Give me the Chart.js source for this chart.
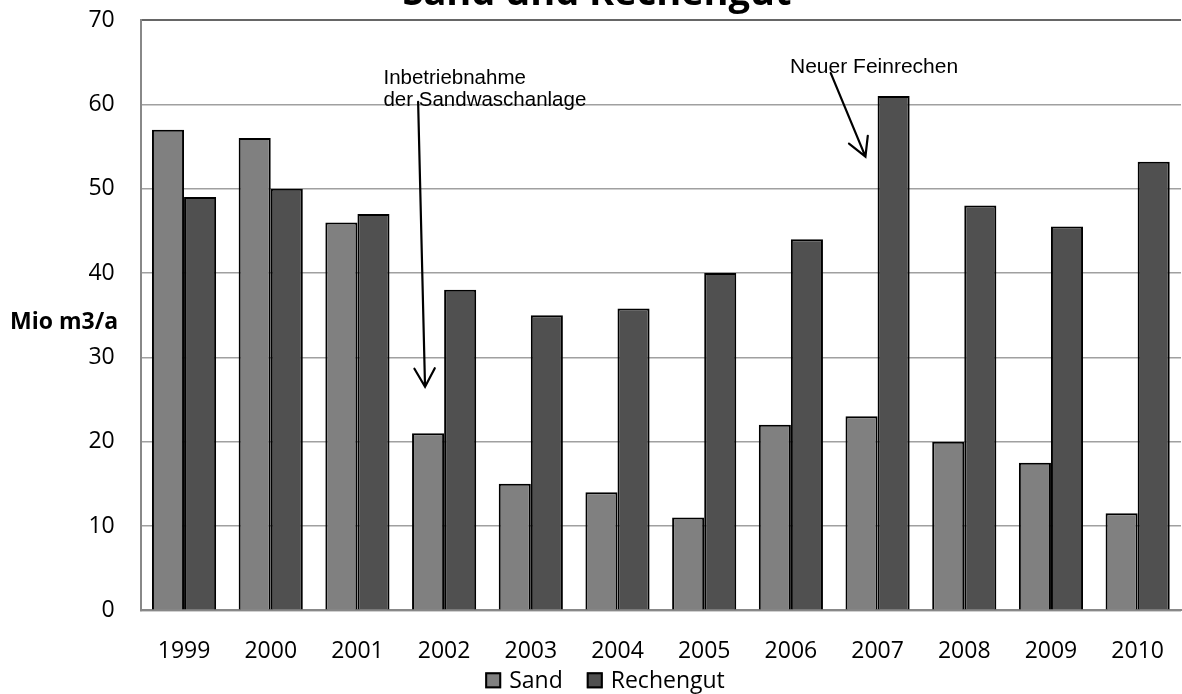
<!DOCTYPE html>
<html>
<head>
<meta charset="utf-8">
<script src="https://cdn.jsdelivr.net/npm/chart.js@4/dist/chart.umd.min.js"></script>
<style>
  html, body { margin: 0; padding: 0; background: #ffffff; }
  #wrap { width: 1182px; height: 694px; }
</style>
</head>
<body>
<div id="wrap"><canvas id="chart" width="1182" height="694"></canvas></div>
<script>
// Jahreswerte Sand und Rechengut (Mio m3/a)
const years = ['1999', '2000', '2001', '2002', '2003', '2004', '2005', '2006', '2007', '2008', '2009', '2010'];
const sand = [57, 56, 46, 21, 15, 14, 11, 22, 23, 20, 17.5, 11.5];
const rechengut = [49, 50, 47, 38, 35, 35.8, 40, 44, 61, 48, 45.5, 53.2];
const yTicks = [0, 10, 20, 30, 40, 50, 60, 70];

const chartTitle = 'Sand und Rechengut';
const yTitle = 'Mio m3/a';

// Hinweise mit Pfeil, Lage in Achsenwerten (Kategorie-Index, Wert)
const notes = [
  { lines: ['Inbetriebnahme', 'der Sandwaschanlage'], at: [2.30, 62.4], size: 20.5, lead: 21.5,
    from: [2.70, 60.3], to: [2.78, 26.5] },
  { lines: ['Neuer Feinrechen'], at: [6.99, 63.7], size: 21, lead: 22,
    from: [7.46, 63.7], to: [7.86, 53.8] }
];

const textPlugin = {
  id: 'texts',
  afterDraw(chart) {
    const { ctx, chartArea, scales } = chart;
    const x = scales.x, y = scales.y;
    ctx.save();
    // Titel (oben angeschnitten)
    ctx.fillStyle = '#000';
    ctx.font = 'bold 38px "Open Sans"';
    ctx.textAlign = 'center';
    ctx.textBaseline = 'alphabetic';
    ctx.fillText(chartTitle, 597, 5);
    // Achsentitel, waagrecht
    ctx.font = 'bold 23px "Open Sans"';
    ctx.textAlign = 'left';
    ctx.fillText(yTitle, 10, (chartArea.top + chartArea.bottom) / 2 + 14);

    // Legende unter den Jahreszahlen
    ctx.font = '23px "Open Sans"';
    ctx.textBaseline = 'middle';
    const items = chart.data.datasets.map(d => ({
      text: d.label, fill: d.backgroundColor, w: 16 + 8 + ctx.measureText(d.label).width
    }));
    const gap = 24;
    const total = items.reduce((s, it) => s + it.w, 0) + gap * (items.length - 1);
    let lx = 605 - total / 2;
    const ly = chartArea.bottom + 70;
    items.forEach(it => {
      ctx.fillStyle = it.fill;
      ctx.fillRect(lx, ly - 8, 16, 16);
      ctx.strokeStyle = '#000';
      ctx.lineWidth = 2;
      ctx.strokeRect(lx + 1, ly - 7, 14, 14);
      ctx.fillStyle = '#000';
      ctx.fillText(it.text, lx + 24, ly + 1);
      lx += it.w + gap;
    });

    // Hinweise
    ctx.textBaseline = 'alphabetic';
    ctx.strokeStyle = '#000';
    ctx.lineWidth = 2.2;
    ctx.lineCap = 'round';
    notes.forEach(n => {
      ctx.font = n.size + 'px "Liberation Sans", Arial, sans-serif';
      ctx.textAlign = 'left';
      const tx = x.getPixelForValue(n.at[0]);
      const ty = y.getPixelForValue(n.at[1]);
      n.lines.forEach((l, i) => ctx.fillText(l, tx, ty + i * n.lead));
      const x0 = x.getPixelForValue(n.from[0]), y0 = y.getPixelForValue(n.from[1]);
      const x1 = x.getPixelForValue(n.to[0]), y1 = y.getPixelForValue(n.to[1]);
      ctx.beginPath();
      ctx.moveTo(x0, y0);
      ctx.lineTo(x1, y1);
      const ang = Math.atan2(y0 - y1, x0 - x1);
      const len = 21, spread = 29 * Math.PI / 180;
      ctx.moveTo(x1 + len * Math.cos(ang - spread), y1 + len * Math.sin(ang - spread));
      ctx.lineTo(x1, y1);
      ctx.lineTo(x1 + len * Math.cos(ang + spread), y1 + len * Math.sin(ang + spread));
      ctx.stroke();
    });
    ctx.restore();
  }
};

function noPadding(scale) {
  scale.paddingTop = 0; scale.paddingBottom = 0;
  scale.paddingLeft = 0; scale.paddingRight = 0;
}

new Chart(document.getElementById('chart'), {
  type: 'bar',
  data: {
    labels: years,
    datasets: [
      { label: 'Sand', data: sand, backgroundColor: '#808080', borderColor: '#000', borderWidth: 2 },
      { label: 'Rechengut', data: rechengut, backgroundColor: '#505050', borderColor: '#000', borderWidth: 2 }
    ]
  },
  options: {
    responsive: false,
    animation: false,
    events: [],
    layout: { padding: { left: 0, right: 1, top: 20, bottom: 0 } },
    datasets: { bar: { categoryPercentage: 0.74, barPercentage: 1 } },
    plugins: {
      title: { display: false },
      tooltip: { enabled: false },
      legend: { display: false }
    },
    scales: {
      x: {
        grid: { display: false, drawTicks: false },
        border: { display: true, color: '#888888', width: 2 },
        ticks: { color: '#000', font: { family: '"Open Sans"', size: 23 }, padding: 27, maxRotation: 0, autoSkip: false },
        afterFit(scale) { scale.height = 83.7; noPadding(scale); }
      },
      y: {
        min: 0, max: 70,
        afterBuildTicks(scale) { scale.ticks = yTicks.map(v => ({ value: v })); },
        grid: {
          drawTicks: false,
          color: c => (c.tick && c.tick.value === 70) ? '#666666' : '#a0a0a0',
          lineWidth: c => (c.tick && c.tick.value === 70) ? 2 : 1.6
        },
        border: { display: true, color: '#888888', width: 2 },
        ticks: { color: '#000', font: { family: '"Open Sans"', size: 23 }, padding: 26 },
        afterFit(scale) { scale.width = 140.7; noPadding(scale); }
      }
    }
  },
  plugins: [textPlugin]
});
</script>
</body>
</html>
